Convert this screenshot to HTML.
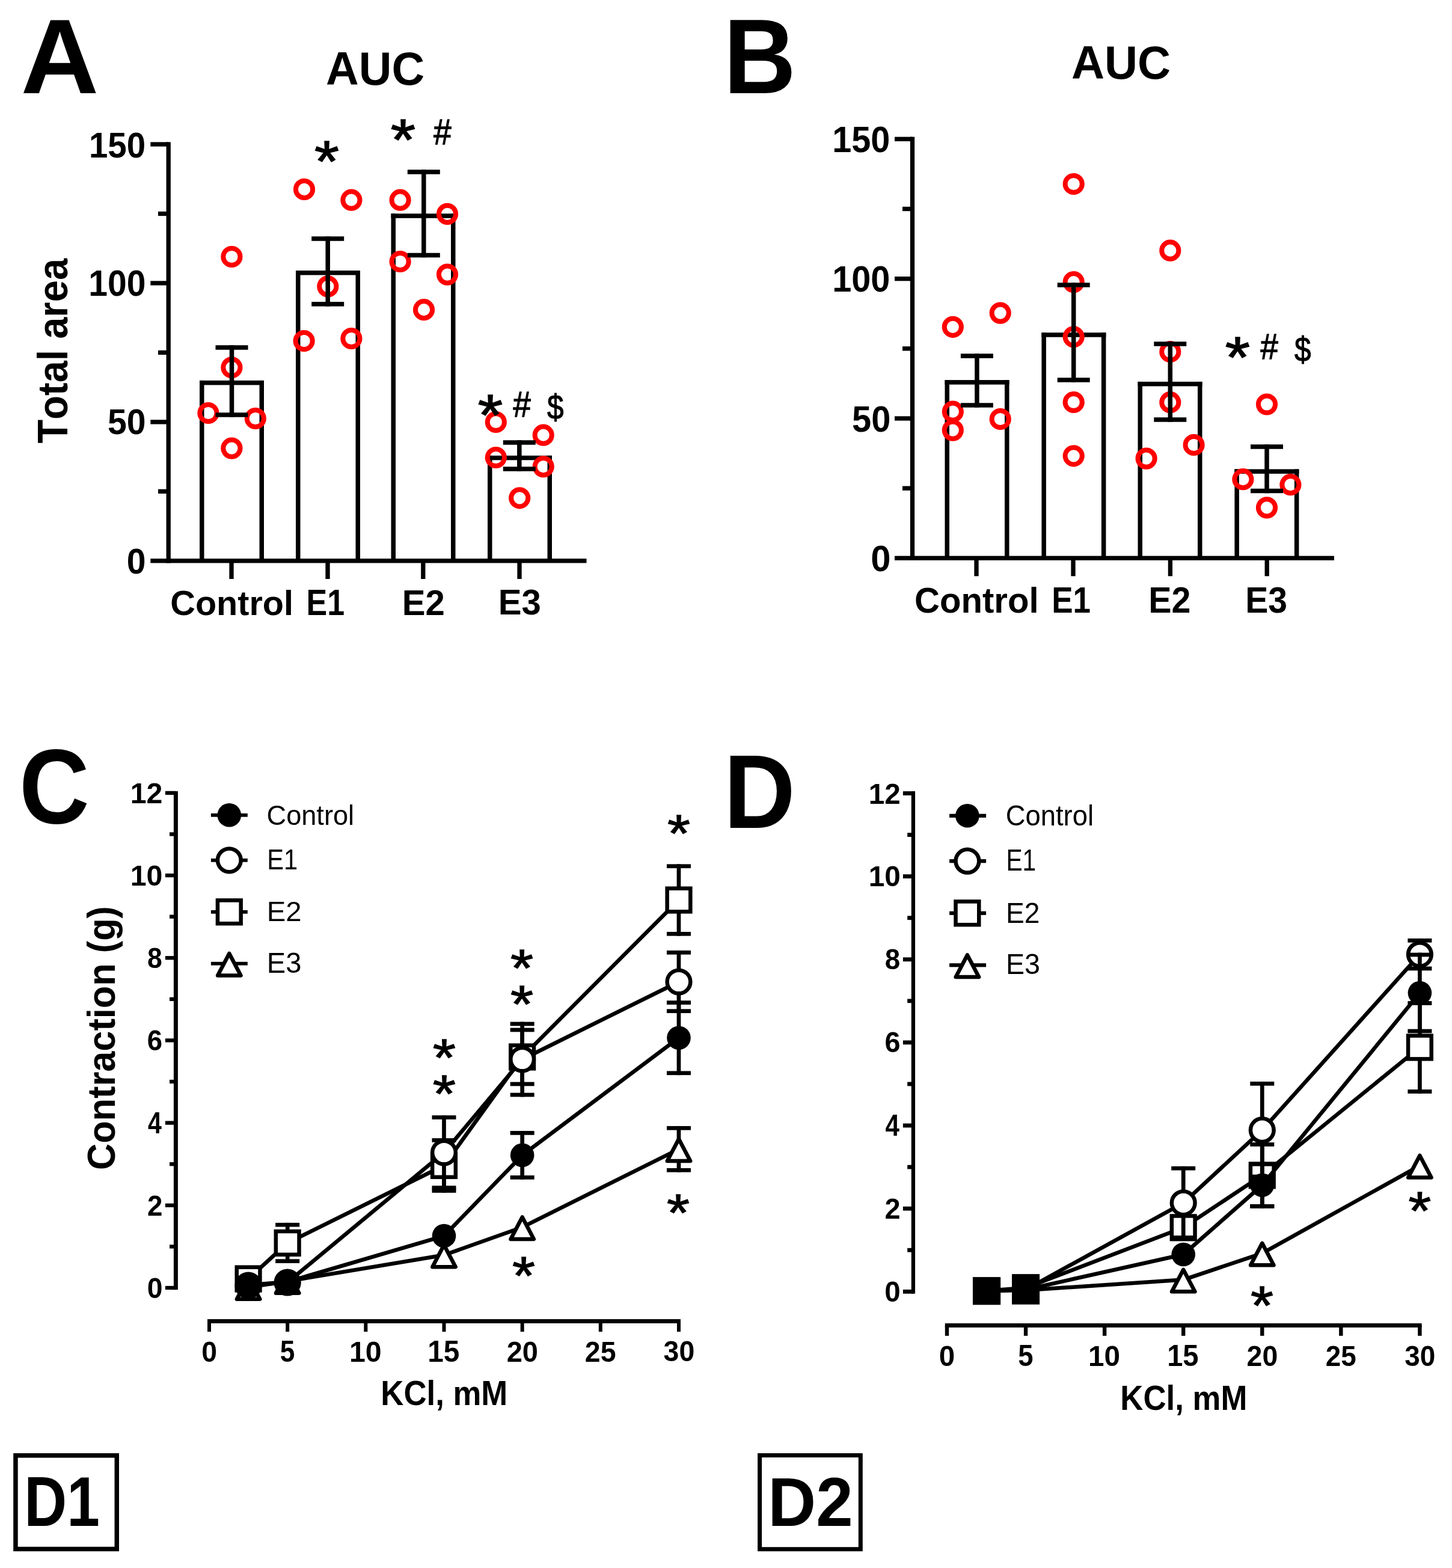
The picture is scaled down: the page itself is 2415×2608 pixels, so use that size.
<!DOCTYPE html>
<html><head><meta charset="utf-8"><title>Figure</title>
<style>
html,body{margin:0;padding:0;background:#fff;width:2415px;height:2608px;}
svg{display:block;}
text{font-family:'Liberation Sans',Arial,sans-serif;font-kerning:none;}
</style></head>
<body>
<svg width="2415" height="2608" viewBox="0 0 2415 2608">
<rect x="0" y="0" width="2415" height="2608" fill="#fff"/>
<rect x="276.55" y="236.35" width="7.30" height="700.10" fill="#000"/>
<rect x="250.30" y="929.15" width="725.20" height="7.30" fill="#000"/>
<rect x="250.30" y="236.35" width="29.90" height="7.30" fill="#000"/>
<rect x="250.30" y="467.28" width="29.90" height="7.30" fill="#000"/>
<rect x="250.30" y="698.22" width="29.90" height="7.30" fill="#000"/>
<rect x="263.00" y="351.82" width="17.20" height="7.30" fill="#000"/>
<rect x="263.00" y="582.75" width="17.20" height="7.30" fill="#000"/>
<rect x="263.00" y="813.68" width="17.20" height="7.30" fill="#000"/>
<text transform="translate(147.94 262.01) scale(0.9381 1)" font-size="60.17" font-weight="bold" fill="#000">150</text>
<text transform="translate(147.30 491.91) scale(0.9465 1)" font-size="60.31" font-weight="bold" fill="#000">100</text>
<text transform="translate(178.94 722.42) scale(0.9639 1)" font-size="59.32" font-weight="bold" fill="#000">50</text>
<text transform="translate(210.74 953.82) scale(0.9641 1)" font-size="59.32" font-weight="bold" fill="#000">0</text>
<rect x="332.00" y="632.90" width="7.50" height="299.90" fill="#000"/>
<rect x="431.50" y="632.90" width="7.50" height="299.90" fill="#000"/>
<rect x="332.00" y="632.90" width="107.00" height="7.50" fill="#000"/>
<rect x="381.35" y="932.80" width="7.30" height="30.20" fill="#000"/>
<rect x="492.00" y="450.00" width="7.50" height="482.80" fill="#000"/>
<rect x="591.50" y="450.00" width="7.50" height="482.80" fill="#000"/>
<rect x="492.00" y="450.00" width="107.00" height="7.50" fill="#000"/>
<rect x="541.35" y="932.80" width="7.30" height="30.20" fill="#000"/>
<rect x="650.50" y="355.30" width="7.50" height="577.50" fill="#000"/>
<rect x="750.00" y="355.30" width="7.50" height="577.50" fill="#000"/>
<rect x="650.50" y="355.30" width="107.00" height="7.50" fill="#000"/>
<rect x="700.15" y="932.80" width="7.30" height="30.20" fill="#000"/>
<rect x="811.00" y="757.80" width="7.50" height="175.00" fill="#000"/>
<rect x="910.50" y="757.80" width="7.50" height="175.00" fill="#000"/>
<rect x="811.00" y="757.80" width="107.00" height="7.50" fill="#000"/>
<rect x="860.35" y="932.80" width="7.30" height="30.20" fill="#000"/>
<circle cx="385.4" cy="427" r="14.1" fill="none" stroke="#ff0000" stroke-width="8.0"/>
<circle cx="385.4" cy="611.3" r="14.1" fill="none" stroke="#ff0000" stroke-width="8.0"/>
<circle cx="346.4" cy="687" r="14.1" fill="none" stroke="#ff0000" stroke-width="8.0"/>
<circle cx="424.8" cy="696" r="14.1" fill="none" stroke="#ff0000" stroke-width="8.0"/>
<circle cx="385.4" cy="745.6" r="14.1" fill="none" stroke="#ff0000" stroke-width="8.0"/>
<circle cx="506" cy="314.9" r="14.1" fill="none" stroke="#ff0000" stroke-width="8.0"/>
<circle cx="584.4" cy="332.7" r="14.1" fill="none" stroke="#ff0000" stroke-width="8.0"/>
<circle cx="545.3" cy="476.4" r="14.1" fill="none" stroke="#ff0000" stroke-width="8.0"/>
<circle cx="505.6" cy="567" r="14.1" fill="none" stroke="#ff0000" stroke-width="8.0"/>
<circle cx="584.4" cy="563" r="14.1" fill="none" stroke="#ff0000" stroke-width="8.0"/>
<circle cx="665.6" cy="332.7" r="14.1" fill="none" stroke="#ff0000" stroke-width="8.0"/>
<circle cx="744" cy="355.9" r="14.1" fill="none" stroke="#ff0000" stroke-width="8.0"/>
<circle cx="665.6" cy="435" r="14.1" fill="none" stroke="#ff0000" stroke-width="8.0"/>
<circle cx="744" cy="456.6" r="14.1" fill="none" stroke="#ff0000" stroke-width="8.0"/>
<circle cx="705" cy="515.2" r="14.1" fill="none" stroke="#ff0000" stroke-width="8.0"/>
<circle cx="824.8" cy="702" r="14.1" fill="none" stroke="#ff0000" stroke-width="8.0"/>
<circle cx="903.7" cy="723.7" r="14.1" fill="none" stroke="#ff0000" stroke-width="8.0"/>
<circle cx="824.8" cy="761" r="14.1" fill="none" stroke="#ff0000" stroke-width="8.0"/>
<circle cx="903.7" cy="776.1" r="14.1" fill="none" stroke="#ff0000" stroke-width="8.0"/>
<circle cx="864.2" cy="828.3" r="14.1" fill="none" stroke="#ff0000" stroke-width="8.0"/>
<rect x="381.75" y="574.25" width="7.50" height="119.50" fill="#000"/>
<rect x="358.50" y="574.25" width="54.00" height="7.50" fill="#000"/>
<rect x="358.50" y="686.25" width="54.00" height="7.50" fill="#000"/>
<rect x="541.45" y="393.25" width="7.50" height="116.30" fill="#000"/>
<rect x="518.20" y="393.25" width="54.00" height="7.50" fill="#000"/>
<rect x="518.20" y="502.05" width="54.00" height="7.50" fill="#000"/>
<rect x="701.05" y="282.25" width="7.50" height="146.00" fill="#000"/>
<rect x="677.80" y="282.25" width="54.00" height="7.50" fill="#000"/>
<rect x="677.80" y="420.75" width="54.00" height="7.50" fill="#000"/>
<rect x="860.05" y="732.25" width="7.50" height="51.50" fill="#000"/>
<rect x="836.80" y="732.25" width="54.00" height="7.50" fill="#000"/>
<rect x="836.80" y="776.25" width="54.00" height="7.50" fill="#000"/>
<text transform="translate(283.34 1022.73) scale(0.9906 1)" font-size="58.14" font-weight="bold" fill="#000">Control</text>
<text transform="translate(509.52 1022.80) scale(0.8582 1)" font-size="60.61" font-weight="bold" fill="#000">E1</text>
<text transform="translate(668.71 1023.00) scale(0.9666 1)" font-size="60.15" font-weight="bold" fill="#000">E2</text>
<text transform="translate(828.71 1022.34) scale(0.9833 1)" font-size="59.20" font-weight="bold" fill="#000">E3</text>
<rect x="1513.85" y="227.65" width="7.30" height="704.30" fill="#000"/>
<rect x="1488.00" y="924.65" width="731.00" height="7.30" fill="#000"/>
<rect x="1488.00" y="227.65" width="29.50" height="7.30" fill="#000"/>
<rect x="1488.00" y="459.98" width="29.50" height="7.30" fill="#000"/>
<rect x="1488.00" y="692.32" width="29.50" height="7.30" fill="#000"/>
<rect x="1501.00" y="343.82" width="16.50" height="7.30" fill="#000"/>
<rect x="1501.00" y="576.15" width="16.50" height="7.30" fill="#000"/>
<rect x="1501.00" y="808.48" width="16.50" height="7.30" fill="#000"/>
<text transform="translate(1384.17 253.31) scale(0.9515 1)" font-size="60.59" font-weight="bold" fill="#000">150</text>
<text transform="translate(1384.17 485.41) scale(0.9538 1)" font-size="60.45" font-weight="bold" fill="#000">100</text>
<text transform="translate(1417.12 717.61) scale(0.9532 1)" font-size="60.59" font-weight="bold" fill="#000">50</text>
<text transform="translate(1448.24 950.30) scale(0.9764 1)" font-size="61.16" font-weight="bold" fill="#000">0</text>
<rect x="1571.50" y="632.10" width="7.50" height="296.20" fill="#000"/>
<rect x="1671.00" y="632.10" width="7.50" height="296.20" fill="#000"/>
<rect x="1571.50" y="632.10" width="107.00" height="7.50" fill="#000"/>
<rect x="1620.35" y="928.30" width="7.30" height="30.00" fill="#000"/>
<rect x="1732.40" y="553.20" width="7.50" height="375.10" fill="#000"/>
<rect x="1831.90" y="553.20" width="7.50" height="375.10" fill="#000"/>
<rect x="1732.40" y="553.20" width="107.00" height="7.50" fill="#000"/>
<rect x="1781.35" y="928.30" width="7.30" height="30.00" fill="#000"/>
<rect x="1892.50" y="634.90" width="7.50" height="293.40" fill="#000"/>
<rect x="1992.00" y="634.90" width="7.50" height="293.40" fill="#000"/>
<rect x="1892.50" y="634.90" width="107.00" height="7.50" fill="#000"/>
<rect x="1942.75" y="928.30" width="7.30" height="30.00" fill="#000"/>
<rect x="2053.40" y="780.40" width="7.50" height="147.90" fill="#000"/>
<rect x="2152.90" y="780.40" width="7.50" height="147.90" fill="#000"/>
<rect x="2053.40" y="780.40" width="107.00" height="7.50" fill="#000"/>
<rect x="2103.55" y="928.30" width="7.30" height="30.00" fill="#000"/>
<circle cx="1584.8" cy="543.8" r="14.1" fill="none" stroke="#ff0000" stroke-width="8.0"/>
<circle cx="1663.7" cy="520.6" r="14.1" fill="none" stroke="#ff0000" stroke-width="8.0"/>
<circle cx="1584.8" cy="684.7" r="14.1" fill="none" stroke="#ff0000" stroke-width="8.0"/>
<circle cx="1584.8" cy="715.6" r="14.1" fill="none" stroke="#ff0000" stroke-width="8.0"/>
<circle cx="1663.7" cy="697" r="14.1" fill="none" stroke="#ff0000" stroke-width="8.0"/>
<circle cx="1785.7" cy="306" r="14.1" fill="none" stroke="#ff0000" stroke-width="8.0"/>
<circle cx="1785.7" cy="469.1" r="14.1" fill="none" stroke="#ff0000" stroke-width="8.0"/>
<circle cx="1785.7" cy="560.3" r="14.1" fill="none" stroke="#ff0000" stroke-width="8.0"/>
<circle cx="1785.7" cy="669" r="14.1" fill="none" stroke="#ff0000" stroke-width="8.0"/>
<circle cx="1785.7" cy="758.3" r="14.1" fill="none" stroke="#ff0000" stroke-width="8.0"/>
<circle cx="1946.3" cy="416.7" r="14.1" fill="none" stroke="#ff0000" stroke-width="8.0"/>
<circle cx="1946.3" cy="585" r="14.1" fill="none" stroke="#ff0000" stroke-width="8.0"/>
<circle cx="1946.3" cy="669.2" r="14.1" fill="none" stroke="#ff0000" stroke-width="8.0"/>
<circle cx="1985.6" cy="740" r="14.1" fill="none" stroke="#ff0000" stroke-width="8.0"/>
<circle cx="1906.6" cy="762.6" r="14.1" fill="none" stroke="#ff0000" stroke-width="8.0"/>
<circle cx="2107" cy="672.5" r="14.1" fill="none" stroke="#ff0000" stroke-width="8.0"/>
<circle cx="2067.4" cy="797.2" r="14.1" fill="none" stroke="#ff0000" stroke-width="8.0"/>
<circle cx="2146.4" cy="806.2" r="14.1" fill="none" stroke="#ff0000" stroke-width="8.0"/>
<circle cx="2107" cy="844.4" r="14.1" fill="none" stroke="#ff0000" stroke-width="8.0"/>
<rect x="1621.15" y="588.25" width="7.50" height="89.50" fill="#000"/>
<rect x="1597.90" y="588.25" width="54.00" height="7.50" fill="#000"/>
<rect x="1597.90" y="670.25" width="54.00" height="7.50" fill="#000"/>
<rect x="1781.95" y="470.25" width="7.50" height="165.50" fill="#000"/>
<rect x="1758.70" y="470.25" width="54.00" height="7.50" fill="#000"/>
<rect x="1758.70" y="628.25" width="54.00" height="7.50" fill="#000"/>
<rect x="1942.55" y="568.25" width="7.50" height="133.50" fill="#000"/>
<rect x="1919.30" y="568.25" width="54.00" height="7.50" fill="#000"/>
<rect x="1919.30" y="694.25" width="54.00" height="7.50" fill="#000"/>
<rect x="2103.25" y="739.25" width="7.50" height="81.00" fill="#000"/>
<rect x="2080.00" y="739.25" width="54.00" height="7.50" fill="#000"/>
<rect x="2080.00" y="812.75" width="54.00" height="7.50" fill="#000"/>
<text transform="translate(1521.12 1019.02) scale(0.9785 1)" font-size="59.37" font-weight="bold" fill="#000">Control</text>
<text transform="translate(1749.15 1019.00) scale(0.8579 1)" font-size="61.77" font-weight="bold" fill="#000">E1</text>
<text transform="translate(1910.16 1019.00) scale(0.9420 1)" font-size="60.87" font-weight="bold" fill="#000">E2</text>
<text transform="translate(2071.18 1018.92) scale(0.9405 1)" font-size="60.75" font-weight="bold" fill="#000">E3</text>
<rect x="288.90" y="1316.00" width="7.00" height="829.15" fill="#000"/>
<rect x="274.90" y="2138.85" width="17.50" height="6.30" fill="#000"/>
<rect x="282.00" y="2070.26" width="10.40" height="6.30" fill="#000"/>
<rect x="274.90" y="2001.66" width="17.50" height="6.30" fill="#000"/>
<rect x="282.00" y="1933.07" width="10.40" height="6.30" fill="#000"/>
<rect x="274.90" y="1864.47" width="17.50" height="6.30" fill="#000"/>
<rect x="282.00" y="1795.88" width="10.40" height="6.30" fill="#000"/>
<rect x="274.90" y="1727.28" width="17.50" height="6.30" fill="#000"/>
<rect x="282.00" y="1658.69" width="10.40" height="6.30" fill="#000"/>
<rect x="274.90" y="1590.10" width="17.50" height="6.30" fill="#000"/>
<rect x="282.00" y="1521.50" width="10.40" height="6.30" fill="#000"/>
<rect x="274.90" y="1452.91" width="17.50" height="6.30" fill="#000"/>
<rect x="282.00" y="1384.31" width="10.40" height="6.30" fill="#000"/>
<rect x="274.90" y="1315.72" width="17.50" height="6.30" fill="#000"/>
<text transform="translate(244.67 2159.03) scale(0.9633 1)" font-size="48.02" font-weight="bold" fill="#000">0</text>
<text transform="translate(244.92 2022.31) scale(0.9384 1)" font-size="48.69" font-weight="bold" fill="#000">2</text>
<text transform="translate(245.88 1885.12) scale(0.8311 1)" font-size="49.42" font-weight="bold" fill="#000">4</text>
<text transform="translate(244.83 1747.47) scale(0.9477 1)" font-size="48.02" font-weight="bold" fill="#000">6</text>
<text transform="translate(245.09 1610.28) scale(0.9280 1)" font-size="48.02" font-weight="bold" fill="#000">8</text>
<text transform="translate(216.76 1473.09) scale(1.0058 1)" font-size="48.02" font-weight="bold" fill="#000">10</text>
<text transform="translate(216.76 1336.37) scale(0.9909 1)" font-size="48.69" font-weight="bold" fill="#000">12</text>
<rect x="345.00" y="2194.10" width="786.97" height="6.90" fill="#000"/>
<rect x="345.00" y="2197.55" width="6.00" height="17.43" fill="#000"/>
<text transform="translate(335.17 2264.53) scale(0.9521 1)" font-size="48.59" font-weight="bold" fill="#000">0</text>
<rect x="475.16" y="2197.55" width="6.00" height="17.43" fill="#000"/>
<text transform="translate(465.80 2264.52) scale(0.8969 1)" font-size="49.30" font-weight="bold" fill="#000">5</text>
<rect x="605.32" y="2197.55" width="6.00" height="17.43" fill="#000"/>
<text transform="translate(580.93 2264.53) scale(0.9941 1)" font-size="48.59" font-weight="bold" fill="#000">10</text>
<rect x="735.49" y="2197.55" width="6.00" height="17.43" fill="#000"/>
<text transform="translate(711.13 2264.52) scale(0.9670 1)" font-size="49.30" font-weight="bold" fill="#000">15</text>
<rect x="865.65" y="2197.55" width="6.00" height="17.43" fill="#000"/>
<text transform="translate(842.67 2264.53) scale(0.9669 1)" font-size="48.59" font-weight="bold" fill="#000">20</text>
<rect x="995.81" y="2197.55" width="6.00" height="17.43" fill="#000"/>
<text transform="translate(972.85 2264.53) scale(0.9548 1)" font-size="48.59" font-weight="bold" fill="#000">25</text>
<rect x="1125.97" y="2197.55" width="6.00" height="17.43" fill="#000"/>
<text transform="translate(1103.55 2264.46) scale(0.9581 1)" font-size="48.49" font-weight="bold" fill="#000">30</text>
<text transform="translate(633.37 2337.10) scale(0.9256 1)" font-size="56.98" font-weight="bold" fill="#000">KCl, mM</text>
<text transform="translate(190.80 1946.11) rotate(-90) scale(0.9370 1)" font-size="65.41" font-weight="bold" fill="#000">Contraction (g)</text>
<polyline points="413.08,2141.00 478.16,2131.00 738.49,2087.50 868.65,2041.20 1128.97,1911.30" fill="none" stroke="#000" stroke-width="6.5" stroke-linejoin="round"/>
<rect x="1125.62" y="1872.95" width="6.70" height="76.70" fill="#000"/>
<rect x="1108.97" y="1872.95" width="40.00" height="6.70" fill="#000"/>
<rect x="1108.97" y="1942.95" width="40.00" height="6.70" fill="#000"/>
<polygon points="413.08,2124.20 432.28,2160.70 393.88,2160.70" fill="#fff" stroke="#000" stroke-width="6.5" stroke-linejoin="round"/>
<polygon points="478.16,2114.20 497.36,2150.70 458.96,2150.70" fill="#fff" stroke="#000" stroke-width="6.5" stroke-linejoin="round"/>
<polygon points="738.49,2070.70 757.69,2107.20 719.28,2107.20" fill="#fff" stroke="#000" stroke-width="6.5" stroke-linejoin="round"/>
<polygon points="868.65,2024.40 887.85,2060.90 849.45,2060.90" fill="#fff" stroke="#000" stroke-width="6.5" stroke-linejoin="round"/>
<polygon points="1128.97,1894.50 1148.17,1931.00 1109.77,1931.00" fill="#fff" stroke="#000" stroke-width="6.5" stroke-linejoin="round"/>
<polyline points="413.08,2127.00 478.16,2067.40 738.49,1938.50 868.65,1758.00 1128.97,1497.00" fill="none" stroke="#000" stroke-width="6.5" stroke-linejoin="round"/>
<rect x="474.81" y="2033.85" width="6.70" height="67.10" fill="#000"/>
<rect x="458.16" y="2033.85" width="40.00" height="6.70" fill="#000"/>
<rect x="458.16" y="2094.25" width="40.00" height="6.70" fill="#000"/>
<rect x="735.13" y="1893.15" width="6.70" height="90.70" fill="#000"/>
<rect x="718.49" y="1893.15" width="40.00" height="6.70" fill="#000"/>
<rect x="718.49" y="1977.15" width="40.00" height="6.70" fill="#000"/>
<rect x="865.30" y="1709.65" width="6.70" height="96.70" fill="#000"/>
<rect x="848.65" y="1709.65" width="40.00" height="6.70" fill="#000"/>
<rect x="848.65" y="1799.65" width="40.00" height="6.70" fill="#000"/>
<rect x="1125.62" y="1437.35" width="6.70" height="119.30" fill="#000"/>
<rect x="1108.97" y="1437.35" width="40.00" height="6.70" fill="#000"/>
<rect x="1108.97" y="1549.95" width="40.00" height="6.70" fill="#000"/>
<rect x="393.73" y="2107.65" width="38.70" height="38.70" fill="#fff" stroke="#000" stroke-width="6.5"/>
<rect x="458.81" y="2048.05" width="38.70" height="38.70" fill="#fff" stroke="#000" stroke-width="6.5"/>
<rect x="719.13" y="1919.15" width="38.70" height="38.70" fill="#fff" stroke="#000" stroke-width="6.5"/>
<rect x="849.30" y="1738.65" width="38.70" height="38.70" fill="#fff" stroke="#000" stroke-width="6.5"/>
<rect x="1109.62" y="1477.65" width="38.70" height="38.70" fill="#fff" stroke="#000" stroke-width="6.5"/>
<polyline points="413.08,2138.00 478.16,2133.00 738.49,1917.00 868.65,1762.00 1128.97,1633.00" fill="none" stroke="#000" stroke-width="6.5" stroke-linejoin="round"/>
<rect x="735.13" y="1855.15" width="6.70" height="123.70" fill="#000"/>
<rect x="718.49" y="1855.15" width="40.00" height="6.70" fill="#000"/>
<rect x="718.49" y="1972.15" width="40.00" height="6.70" fill="#000"/>
<rect x="865.30" y="1699.65" width="6.70" height="124.70" fill="#000"/>
<rect x="848.65" y="1699.65" width="40.00" height="6.70" fill="#000"/>
<rect x="848.65" y="1817.65" width="40.00" height="6.70" fill="#000"/>
<rect x="1125.62" y="1580.95" width="6.70" height="104.10" fill="#000"/>
<rect x="1108.97" y="1580.95" width="40.00" height="6.70" fill="#000"/>
<rect x="1108.97" y="1678.35" width="40.00" height="6.70" fill="#000"/>
<circle cx="413.08" cy="2138.00" r="19.35" fill="#fff" stroke="#000" stroke-width="6.5"/>
<circle cx="478.16" cy="2133.00" r="19.35" fill="#fff" stroke="#000" stroke-width="6.5"/>
<circle cx="738.49" cy="1917.00" r="19.35" fill="#fff" stroke="#000" stroke-width="6.5"/>
<circle cx="868.65" cy="1762.00" r="19.35" fill="#fff" stroke="#000" stroke-width="6.5"/>
<circle cx="1128.97" cy="1633.00" r="19.35" fill="#fff" stroke="#000" stroke-width="6.5"/>
<polyline points="413.08,2137.50 478.16,2132.00 738.49,2055.60 868.65,1921.40 1128.97,1726.20" fill="none" stroke="#000" stroke-width="6.5" stroke-linejoin="round"/>
<rect x="865.30" y="1881.05" width="6.70" height="80.70" fill="#000"/>
<rect x="848.65" y="1881.05" width="40.00" height="6.70" fill="#000"/>
<rect x="848.65" y="1955.05" width="40.00" height="6.70" fill="#000"/>
<rect x="1125.62" y="1664.25" width="6.70" height="123.90" fill="#000"/>
<rect x="1108.97" y="1664.25" width="40.00" height="6.70" fill="#000"/>
<rect x="1108.97" y="1781.45" width="40.00" height="6.70" fill="#000"/>
<circle cx="413.08" cy="2137.50" r="19.8" fill="#000"/>
<circle cx="478.16" cy="2132.00" r="19.8" fill="#000"/>
<circle cx="738.49" cy="2055.60" r="19.8" fill="#000"/>
<circle cx="868.65" cy="1921.40" r="19.8" fill="#000"/>
<circle cx="1128.97" cy="1726.20" r="19.8" fill="#000"/>
<text transform="translate(719.87 1788.91) scale(1.1194 1)" font-size="87.73" font-weight="normal" fill="#000" stroke="#000" stroke-width="1.3" stroke-linejoin="miter">*</text>
<text transform="translate(719.87 1848.96) scale(1.1212 1)" font-size="87.59" font-weight="normal" fill="#000" stroke="#000" stroke-width="1.3" stroke-linejoin="miter">*</text>
<text transform="translate(848.97 1639.91) scale(1.1162 1)" font-size="87.73" font-weight="normal" fill="#000" stroke="#000" stroke-width="1.3" stroke-linejoin="miter">*</text>
<text transform="translate(848.97 1699.66) scale(1.1216 1)" font-size="87.30" font-weight="normal" fill="#000" stroke="#000" stroke-width="1.3" stroke-linejoin="miter">*</text>
<text transform="translate(851.88 2152.49) scale(1.0987 1)" font-size="88.87" font-weight="normal" fill="#000" stroke="#000" stroke-width="1.3" stroke-linejoin="miter">*</text>
<text transform="translate(1109.98 1415.71) scale(1.1166 1)" font-size="87.45" font-weight="normal" fill="#000" stroke="#000" stroke-width="1.3" stroke-linejoin="miter">*</text>
<text transform="translate(1108.98 2046.91) scale(1.1130 1)" font-size="87.73" font-weight="normal" fill="#000" stroke="#000" stroke-width="1.3" stroke-linejoin="miter">*</text>
<rect x="350.90" y="1352.90" width="60.90" height="5.80" fill="#000"/>
<circle cx="381.30" cy="1355.80" r="19.8" fill="#000"/>
<text transform="translate(443.51 1371.65) scale(0.9757 1)" font-size="46.30" font-weight="normal" fill="#000">Control</text>
<rect x="350.90" y="1427.95" width="60.90" height="5.80" fill="#000"/>
<circle cx="381.30" cy="1430.85" r="19.35" fill="#fff" stroke="#000" stroke-width="6.5"/>
<text transform="translate(444.29 1445.80) scale(0.8718 1)" font-size="47.68" font-weight="normal" fill="#000">E1</text>
<rect x="350.90" y="1513.90" width="60.90" height="5.80" fill="#000"/>
<rect x="361.95" y="1497.45" width="38.70" height="38.70" fill="#fff" stroke="#000" stroke-width="6.5"/>
<text transform="translate(443.83 1531.90) scale(1.0020 1)" font-size="47.12" font-weight="normal" fill="#000">E2</text>
<rect x="350.90" y="1599.80" width="60.90" height="5.80" fill="#000"/>
<polygon points="381.30,1585.90 400.50,1622.40 362.10,1622.40" fill="#fff" stroke="#000" stroke-width="6.5" stroke-linejoin="round"/>
<text transform="translate(443.85 1617.74) scale(0.9861 1)" font-size="47.60" font-weight="normal" fill="#000">E3</text>
<rect x="1515.75" y="1316.00" width="6.30" height="835.70" fill="#000"/>
<rect x="1501.90" y="2144.90" width="17.00" height="6.80" fill="#000"/>
<rect x="1509.20" y="2075.83" width="9.70" height="6.80" fill="#000"/>
<rect x="1501.90" y="2006.77" width="17.00" height="6.80" fill="#000"/>
<rect x="1509.20" y="1937.70" width="9.70" height="6.80" fill="#000"/>
<rect x="1501.90" y="1868.63" width="17.00" height="6.80" fill="#000"/>
<rect x="1509.20" y="1799.57" width="9.70" height="6.80" fill="#000"/>
<rect x="1501.90" y="1730.50" width="17.00" height="6.80" fill="#000"/>
<rect x="1509.20" y="1661.43" width="9.70" height="6.80" fill="#000"/>
<rect x="1501.90" y="1592.37" width="17.00" height="6.80" fill="#000"/>
<rect x="1509.20" y="1523.30" width="9.70" height="6.80" fill="#000"/>
<rect x="1501.90" y="1454.23" width="17.00" height="6.80" fill="#000"/>
<rect x="1509.20" y="1385.17" width="9.70" height="6.80" fill="#000"/>
<rect x="1501.90" y="1316.10" width="17.00" height="6.80" fill="#000"/>
<text transform="translate(1471.32 2164.83) scale(0.9896 1)" font-size="48.02" font-weight="bold" fill="#000">0</text>
<text transform="translate(1471.57 2027.17) scale(0.9640 1)" font-size="48.69" font-weight="bold" fill="#000">2</text>
<text transform="translate(1472.56 1889.03) scale(0.8538 1)" font-size="49.42" font-weight="bold" fill="#000">4</text>
<text transform="translate(1471.49 1750.43) scale(0.9736 1)" font-size="48.02" font-weight="bold" fill="#000">6</text>
<text transform="translate(1471.75 1612.30) scale(0.9533 1)" font-size="48.02" font-weight="bold" fill="#000">8</text>
<text transform="translate(1444.70 1474.16) scale(0.9934 1)" font-size="48.02" font-weight="bold" fill="#000">10</text>
<text transform="translate(1444.70 1336.50) scale(0.9787 1)" font-size="48.69" font-weight="bold" fill="#000">12</text>
<rect x="1571.80" y="2201.05" width="792.80" height="6.90" fill="#000"/>
<rect x="1571.80" y="2204.50" width="6.40" height="17.30" fill="#000"/>
<text transform="translate(1561.82 2271.83) scale(0.9809 1)" font-size="48.45" font-weight="bold" fill="#000">0</text>
<rect x="1702.87" y="2204.50" width="6.40" height="17.30" fill="#000"/>
<text transform="translate(1693.37 2271.82) scale(0.9240 1)" font-size="49.16" font-weight="bold" fill="#000">5</text>
<rect x="1833.93" y="2204.50" width="6.40" height="17.30" fill="#000"/>
<text transform="translate(1810.08 2271.83) scale(0.9847 1)" font-size="48.45" font-weight="bold" fill="#000">10</text>
<rect x="1965.00" y="2204.50" width="6.40" height="17.30" fill="#000"/>
<text transform="translate(1941.18 2271.82) scale(0.9579 1)" font-size="49.16" font-weight="bold" fill="#000">15</text>
<rect x="2096.07" y="2204.50" width="6.40" height="17.30" fill="#000"/>
<text transform="translate(2073.61 2271.83) scale(0.9578 1)" font-size="48.45" font-weight="bold" fill="#000">20</text>
<rect x="2227.13" y="2204.50" width="6.40" height="17.30" fill="#000"/>
<text transform="translate(2204.69 2271.83) scale(0.9458 1)" font-size="48.45" font-weight="bold" fill="#000">25</text>
<rect x="2358.20" y="2204.50" width="6.40" height="17.30" fill="#000"/>
<text transform="translate(2336.30 2271.76) scale(0.9490 1)" font-size="48.35" font-weight="bold" fill="#000">30</text>
<text transform="translate(1863.37 2344.90) scale(0.9071 1)" font-size="58.14" font-weight="bold" fill="#000">KCl, mM</text>
<polyline points="1640.53,2147.00 1706.07,2146.00 1968.20,2128.60 2099.27,2084.60 2361.40,1938.80" fill="none" stroke="#000" stroke-width="6.5" stroke-linejoin="round"/>
<polygon points="1640.53,2130.20 1659.73,2166.70 1621.33,2166.70" fill="#fff" stroke="#000" stroke-width="6.5" stroke-linejoin="round"/>
<polygon points="1706.07,2129.20 1725.27,2165.70 1686.87,2165.70" fill="#fff" stroke="#000" stroke-width="6.5" stroke-linejoin="round"/>
<polygon points="1968.20,2111.80 1987.40,2148.30 1949.00,2148.30" fill="#fff" stroke="#000" stroke-width="6.5" stroke-linejoin="round"/>
<polygon points="2099.27,2067.80 2118.47,2104.30 2080.07,2104.30" fill="#fff" stroke="#000" stroke-width="6.5" stroke-linejoin="round"/>
<polygon points="2361.40,1922.00 2380.60,1958.50 2342.20,1958.50" fill="#fff" stroke="#000" stroke-width="6.5" stroke-linejoin="round"/>
<polyline points="1640.53,2147.00 1706.07,2142.00 1968.20,2041.80 2099.27,1954.90 2361.40,1742.00" fill="none" stroke="#000" stroke-width="6.5" stroke-linejoin="round"/>
<rect x="2095.92" y="1900.15" width="6.70" height="109.50" fill="#000"/>
<rect x="2079.27" y="1900.15" width="40.00" height="6.70" fill="#000"/>
<rect x="2079.27" y="2002.95" width="40.00" height="6.70" fill="#000"/>
<rect x="2358.05" y="1665.15" width="6.70" height="153.70" fill="#000"/>
<rect x="2341.40" y="1665.15" width="40.00" height="6.70" fill="#000"/>
<rect x="2341.40" y="1812.15" width="40.00" height="6.70" fill="#000"/>
<rect x="1621.18" y="2127.65" width="38.70" height="38.70" fill="#fff" stroke="#000" stroke-width="6.5"/>
<rect x="1686.72" y="2122.65" width="38.70" height="38.70" fill="#fff" stroke="#000" stroke-width="6.5"/>
<rect x="1948.85" y="2022.45" width="38.70" height="38.70" fill="#fff" stroke="#000" stroke-width="6.5"/>
<rect x="2079.92" y="1935.55" width="38.70" height="38.70" fill="#fff" stroke="#000" stroke-width="6.5"/>
<rect x="2342.05" y="1722.65" width="38.70" height="38.70" fill="#fff" stroke="#000" stroke-width="6.5"/>
<polyline points="1640.53,2147.00 1706.07,2145.00 1968.20,2000.80 2099.27,1879.70 2361.40,1587.60" fill="none" stroke="#000" stroke-width="6.5" stroke-linejoin="round"/>
<rect x="1964.85" y="1939.85" width="6.70" height="121.90" fill="#000"/>
<rect x="1948.20" y="1939.85" width="40.00" height="6.70" fill="#000"/>
<rect x="1948.20" y="2055.05" width="40.00" height="6.70" fill="#000"/>
<rect x="2095.92" y="1799.05" width="6.70" height="161.30" fill="#000"/>
<rect x="2079.27" y="1799.05" width="40.00" height="6.70" fill="#000"/>
<rect x="2079.27" y="1953.65" width="40.00" height="6.70" fill="#000"/>
<rect x="2358.05" y="1560.95" width="6.70" height="53.30" fill="#000"/>
<rect x="2341.40" y="1560.95" width="40.00" height="6.70" fill="#000"/>
<rect x="2341.40" y="1607.55" width="40.00" height="6.70" fill="#000"/>
<circle cx="1640.53" cy="2147.00" r="19.35" fill="#fff" stroke="#000" stroke-width="6.5"/>
<circle cx="1706.07" cy="2145.00" r="19.35" fill="#fff" stroke="#000" stroke-width="6.5"/>
<circle cx="1968.20" cy="2000.80" r="19.35" fill="#fff" stroke="#000" stroke-width="6.5"/>
<circle cx="2099.27" cy="1879.70" r="19.35" fill="#fff" stroke="#000" stroke-width="6.5"/>
<circle cx="2361.40" cy="1587.60" r="19.35" fill="#fff" stroke="#000" stroke-width="6.5"/>
<polyline points="1640.53,2147.00 1706.07,2145.00 1968.20,2086.50 2099.27,1971.30 2361.40,1651.50" fill="none" stroke="#000" stroke-width="6.5" stroke-linejoin="round"/>
<rect x="2095.92" y="1932.95" width="6.70" height="76.70" fill="#000"/>
<rect x="2079.27" y="1932.95" width="40.00" height="6.70" fill="#000"/>
<rect x="2079.27" y="2002.95" width="40.00" height="6.70" fill="#000"/>
<rect x="2358.05" y="1584.65" width="6.70" height="133.70" fill="#000"/>
<rect x="2341.40" y="1584.65" width="40.00" height="6.70" fill="#000"/>
<rect x="2341.40" y="1711.65" width="40.00" height="6.70" fill="#000"/>
<circle cx="1640.53" cy="2147.00" r="19.8" fill="#000"/>
<circle cx="1706.07" cy="2145.00" r="19.8" fill="#000"/>
<circle cx="1968.20" cy="2086.50" r="19.8" fill="#000"/>
<circle cx="2099.27" cy="1971.30" r="19.8" fill="#000"/>
<circle cx="2361.40" cy="1651.50" r="19.8" fill="#000"/>
<rect x="1618.00" y="2124.20" width="46.20" height="46.10" fill="#000"/>
<rect x="1683.00" y="2119.30" width="46.10" height="50.40" fill="#000"/>
<text transform="translate(2079.98 2203.45) scale(1.0646 1)" font-size="91.72" font-weight="normal" fill="#000" stroke="#000" stroke-width="1.3" stroke-linejoin="miter">*</text>
<text transform="translate(2342.39 2044.39) scale(1.0858 1)" font-size="89.15" font-weight="normal" fill="#000" stroke="#000" stroke-width="1.3" stroke-linejoin="miter">*</text>
<rect x="1579.10" y="1353.70" width="61.00" height="6.20" fill="#000"/>
<circle cx="1608.90" cy="1356.80" r="19.8" fill="#000"/>
<text transform="translate(1672.69 1372.74) scale(0.9608 1)" font-size="47.25" font-weight="normal" fill="#000">Control</text>
<rect x="1579.10" y="1429.10" width="61.00" height="6.20" fill="#000"/>
<circle cx="1608.90" cy="1432.20" r="19.35" fill="#fff" stroke="#000" stroke-width="6.5"/>
<text transform="translate(1673.46 1447.80) scale(0.8244 1)" font-size="49.42" font-weight="normal" fill="#000">E1</text>
<rect x="1579.10" y="1515.70" width="61.00" height="6.20" fill="#000"/>
<rect x="1589.55" y="1499.45" width="38.70" height="38.70" fill="#fff" stroke="#000" stroke-width="6.5"/>
<text transform="translate(1673.02 1534.90) scale(0.9414 1)" font-size="48.98" font-weight="normal" fill="#000">E2</text>
<rect x="1579.10" y="1602.20" width="61.00" height="6.20" fill="#000"/>
<polygon points="1608.90,1588.50 1628.10,1625.00 1589.70,1625.00" fill="#fff" stroke="#000" stroke-width="6.5" stroke-linejoin="round"/>
<text transform="translate(1672.98 1620.43) scale(0.9642 1)" font-size="48.30" font-weight="normal" fill="#000">E3</text>
<text transform="translate(522.95 300.89) scale(1.0927 1)" font-size="96.28" font-weight="normal" fill="#000" stroke="#000" stroke-width="1.5" stroke-linejoin="miter">*</text>
<text transform="translate(649.74 266.49) scale(1.1047 1)" font-size="95.99" font-weight="normal" fill="#000" stroke="#000" stroke-width="1.5" stroke-linejoin="miter">*</text>
<text transform="translate(721.22 240.35) scale(0.8839 1)" font-size="59.79" font-weight="normal" fill="#000" stroke="#000" stroke-width="1.3" stroke-linejoin="miter">#</text>
<text transform="translate(794.74 722.59) scale(1.1076 1)" font-size="95.99" font-weight="normal" fill="#000" stroke="#000" stroke-width="1.5" stroke-linejoin="miter">*</text>
<text transform="translate(853.42 693.35) scale(0.8821 1)" font-size="59.50" font-weight="normal" fill="#000" stroke="#000" stroke-width="1.3" stroke-linejoin="miter">#</text>
<text transform="translate(910.07 697.37) scale(0.8508 1)" font-size="58.18" font-weight="normal" fill="#000" stroke="#000" stroke-width="1.2" stroke-linejoin="miter">$</text>
<text transform="translate(2037.74 626.89) scale(1.0999 1)" font-size="96.28" font-weight="normal" fill="#000" stroke="#000" stroke-width="1.5" stroke-linejoin="miter">*</text>
<text transform="translate(2096.42 597.35) scale(0.8808 1)" font-size="59.79" font-weight="normal" fill="#000" stroke="#000" stroke-width="1.3" stroke-linejoin="miter">#</text>
<text transform="translate(2152.97 601.37) scale(0.8494 1)" font-size="58.06" font-weight="normal" fill="#000" stroke="#000" stroke-width="1.2" stroke-linejoin="miter">$</text>
<text transform="translate(542.12 141.14) scale(0.9706 1)" font-size="77.97" font-weight="bold" fill="#000">AUC</text>
<text transform="translate(1782.00 131.14) scale(0.9815 1)" font-size="77.68" font-weight="bold" fill="#000">AUC</text>
<text transform="translate(111.70 737.43) rotate(-90) scale(0.9196 1)" font-size="70.79" font-weight="bold" fill="#000">Total area</text>
<text transform="translate(34.52 154.80) scale(1.0246 1)" font-size="175.58" font-weight="bold" fill="#000">A</text>
<text transform="translate(1203.54 155.20) scale(0.9419 1)" font-size="177.04" font-weight="bold" fill="#000">B</text>
<text transform="translate(31.97 1369.18) scale(0.9172 1)" font-size="176.27" font-weight="bold" fill="#000">C</text>
<text transform="translate(1203.87 1376.90) scale(0.9443 1)" font-size="174.57" font-weight="bold" fill="#000">D</text>
<rect x="25.95" y="2420.85" width="168.3" height="155.5999999999999" fill="none" stroke="#000" stroke-width="7.5"/>
<rect x="1263.6" y="2420.6" width="167.70000000000005" height="156.0999999999999" fill="none" stroke="#000" stroke-width="7.0"/>
<text transform="translate(40.23 2537.70) scale(0.8471 1)" font-size="115.99" font-weight="bold" fill="#000">D1</text>
<text transform="translate(1277.30 2537.70) scale(0.9681 1)" font-size="114.29" font-weight="bold" fill="#000">D2</text>
</svg>
</body></html>
